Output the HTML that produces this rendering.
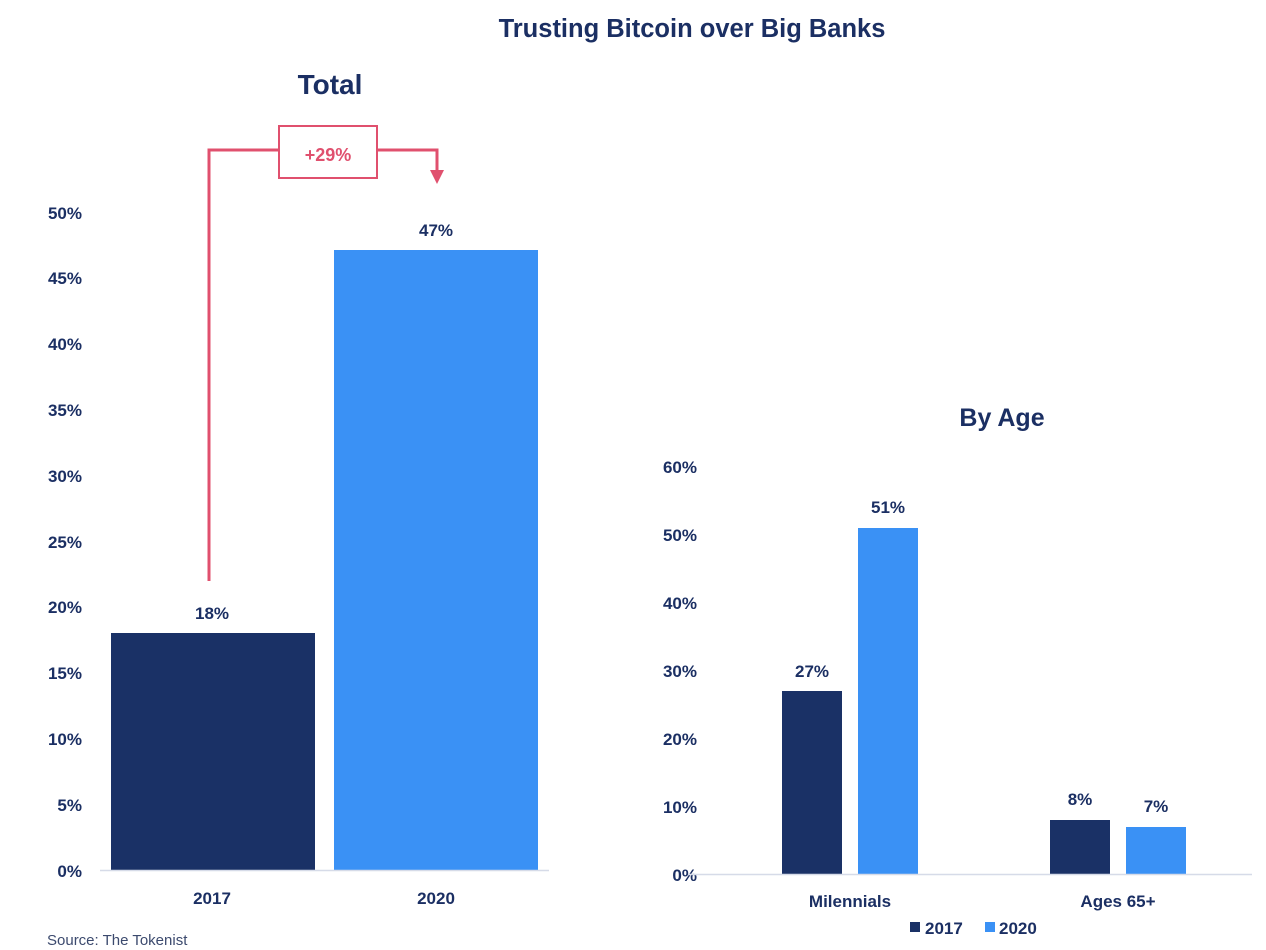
<!DOCTYPE html>
<html><head><meta charset="utf-8"><style>
body{margin:0;background:#fff;}
svg{display:block;font-family:"Liberation Sans",sans-serif;}
.t{fill:#1b2f63;font-weight:bold;}
</style></head><body>
<svg width="1266" height="950" viewBox="0 0 1266 950">
<text class="t" x="692" y="37" font-size="25.5" text-anchor="middle">Trusting Bitcoin over Big Banks</text>
<text class="t" x="330" y="94" font-size="28" text-anchor="middle">Total</text>
<g class="t" font-size="17" text-anchor="end">
<text x="82" y="877">0%</text><text x="82" y="811">5%</text><text x="82" y="745">10%</text>
<text x="82" y="679">15%</text><text x="82" y="613">20%</text><text x="82" y="548">25%</text>
<text x="82" y="482">30%</text><text x="82" y="416">35%</text><text x="82" y="350">40%</text>
<text x="82" y="284">45%</text><text x="82" y="219">50%</text>
</g>
<rect x="111" y="633" width="204" height="237" fill="#1a3166"/>
<rect x="334" y="250" width="204" height="620" fill="#3a91f5"/>
<line x1="100" y1="870.5" x2="549" y2="870.5" stroke="#d6dbe8" stroke-width="1.5"/>
<g class="t" font-size="17" text-anchor="middle">
<text x="212" y="619">18%</text><text x="436" y="236">47%</text>
<text x="212" y="904">2017</text><text x="436" y="904">2020</text>
</g>
<polyline points="209,581 209,150 437,150 437,172" fill="none" stroke="#e0506e" stroke-width="3"/>
<polygon points="430,170 444,170 437,184" fill="#e0506e"/>
<rect x="279" y="126" width="98" height="52" fill="#fff" stroke="#e0506e" stroke-width="2"/>
<text x="328" y="161" font-size="18" font-weight="bold" fill="#e0506e" text-anchor="middle">+29%</text>

<text class="t" x="1002" y="426" font-size="25" text-anchor="middle">By Age</text>
<g class="t" font-size="17" text-anchor="end">
<text x="697" y="881">0%</text><text x="697" y="813">10%</text><text x="697" y="745">20%</text>
<text x="697" y="677">30%</text><text x="697" y="609">40%</text><text x="697" y="541">50%</text>
<text x="697" y="473">60%</text>
</g>
<rect x="782" y="691" width="60" height="183" fill="#1a3166"/>
<rect x="858" y="528" width="60" height="346" fill="#3a91f5"/>
<rect x="1050" y="820" width="60" height="54" fill="#1a3166"/>
<rect x="1126" y="827" width="60" height="47" fill="#3a91f5"/>
<line x1="688" y1="874.5" x2="1252" y2="874.5" stroke="#d6dbe8" stroke-width="1.5"/>
<g class="t" font-size="17" text-anchor="middle">
<text x="812" y="677">27%</text><text x="888" y="513">51%</text>
<text x="1080" y="805">8%</text><text x="1156" y="812">7%</text>
<text x="850" y="907">Milennials</text><text x="1118" y="907">Ages 65+</text>
</g>
<rect x="910" y="922" width="10" height="10" fill="#1a3166"/>
<text class="t" x="925" y="934" font-size="17">2017</text>
<rect x="985" y="922" width="10" height="10" fill="#3a91f5"/>
<text class="t" x="999" y="934" font-size="17">2020</text>
<text x="47" y="945" font-size="15" fill="#3c4a6e">Source: The Tokenist</text>
</svg>
</body></html>
